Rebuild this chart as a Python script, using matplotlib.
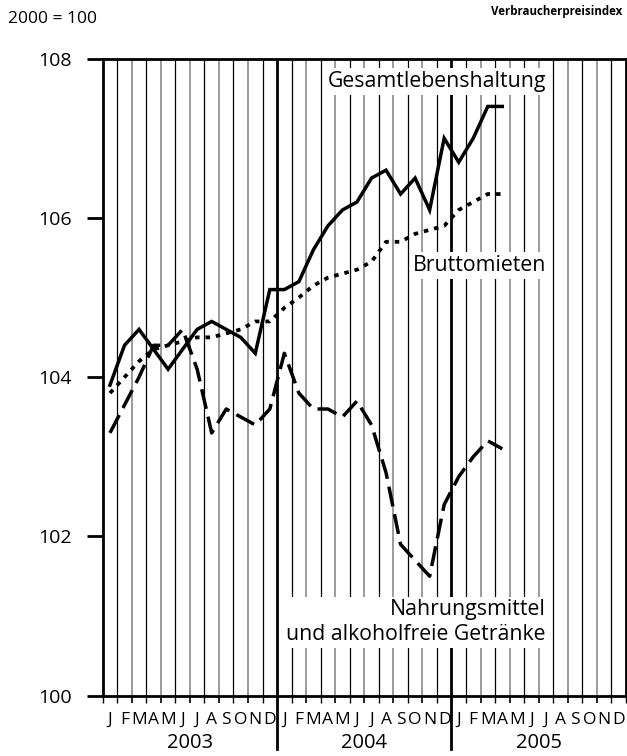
import matplotlib
matplotlib.use("Agg")
import matplotlib.pyplot as plt

plt.rcParams['font.family'] = ['Open Sans', 'DejaVu Sans']

# monthly index, Jan 2003 .. Apr 2005 (2000 = 100)
month_labels = ["J", "F", "M", "A", "M", "J", "J", "A", "S", "O", "N", "D"]
years = ["2003", "2004", "2005"]

gesamt = [103.9, 104.4, 104.6, 104.35, 104.1, 104.35, 104.6, 104.7, 104.6, 104.5, 104.3, 105.1,
          105.1, 105.2, 105.6, 105.9, 106.1, 106.2, 106.5, 106.6, 106.3, 106.5, 106.1, 107.0,
          106.7, 107.0, 107.4, 107.4]
mieten = [103.8, 104.0, 104.2, 104.35, 104.4, 104.45, 104.5, 104.5, 104.55, 104.6, 104.7, 104.7,
          104.87, 105.0, 105.15, 105.25, 105.3, 105.35, 105.45, 105.7, 105.7, 105.8, 105.85, 105.9,
          106.1, 106.2, 106.3, 106.3]
nahrung = [103.3, 103.65, 104.0, 104.4, 104.4, 104.6, 104.1, 103.3, 103.6, 103.5, 103.4, 103.6,
           104.3, 103.8, 103.6, 103.6, 103.5, 103.7, 103.4, 102.8, 101.9, 101.7, 101.5, 102.4,
           102.75, 103.0, 103.2, 103.1]

n_months = 36
x = [i + 0.5 for i in range(len(gesamt))]

fig = plt.figure(figsize=(6.27, 7.56), dpi=100)
ax = fig.add_axes([0.1638, 0.0798, 0.8343, 0.8426])
ax.set_xlim(0, n_months)
ax.set_ylim(100, 108)

# vertical month grid
for k in range(1, n_months):
    if k % 12 == 0:
        ax.axvline(k, color='black', lw=2.0, zorder=1)
    elif k % 2 == 1:
        ax.axvline(k, color='black', lw=0.9, zorder=1)
    else:
        ax.axvline(k, color='#8a8a8a', lw=1.2, zorder=1)

# year separators reaching down into the label area
for k in (12, 24):
    ax.plot([k, k], [0, -0.083], transform=ax.get_xaxis_transform(),
            color='black', lw=2.0, clip_on=False)

ax.plot(x, gesamt, color='black', lw=2.5, solid_joinstyle='miter', zorder=4)
ax.plot(x, mieten, color='black', lw=2.7, linestyle=(0, (1.2, 1.6)),
        dash_capstyle='butt', zorder=4)
ax.plot(x, nahrung, color='black', lw=2.5, linestyle=(0, (5.8, 2.3)),
        dash_capstyle='butt', zorder=4)

box = dict(facecolor='white', edgecolor='none', pad=2)
ax.text(30.5, 107.71, "Gesamtlebenshaltung", ha='right', va='center',
        fontsize=15.3, bbox=box, zorder=3)
ax.text(30.5, 105.40, "Bruttomieten", ha='right', va='center',
        fontsize=15.3, bbox=box, zorder=3)
ax.text(30.5, 100.92, "Nahrungsmittel\nund alkoholfreie Getränke", ha='right',
        va='center', multialignment='right', fontsize=15.3, linespacing=1.25,
        bbox=box, zorder=3)

# axes styling
for side in ('left', 'top', 'bottom', 'right'):
    ax.spines[side].set_linewidth(2.0)
    ax.spines[side].set_zorder(5)

ax.set_yticks([100, 102, 104, 106, 108])
ax.tick_params(axis='y', length=11.5, width=2.0, pad=10.5, labelsize=14)

ax.set_xticks(range(n_months + 1))
ax.set_xticklabels([])
ax.tick_params(axis='x', which='major', length=5, width=1.0, direction='out')
for k, tick in enumerate(ax.xaxis.get_major_ticks()):
    if k % 2 == 0 and k % 12 != 0:
        tick.tick1line.set_color('#8a8a8a')
        tick.tick1line.set_markeredgewidth(1.2)

ax.set_xticks([i + 0.5 for i in range(n_months)], minor=True)
ax.set_xticklabels(month_labels * 3, minor=True)
ax.tick_params(axis='x', which='minor', length=0, pad=12, labelsize=12.5)

for j, yr in enumerate(years):
    ax.text(12 * j + 6, -0.074, yr, transform=ax.get_xaxis_transform(),
            ha='center', va='center', fontsize=14.5)

fig.text(8 / 627, 1 - 19 / 756, "2000 = 100", ha='left', va='center', fontsize=12.5)
fig.text(622 / 627, 1 - 11 / 756, "Verbraucherpreisindex", ha='right', va='center',
         fontsize=8.3, fontweight='bold')

fig.savefig("out.png", dpi=100)
